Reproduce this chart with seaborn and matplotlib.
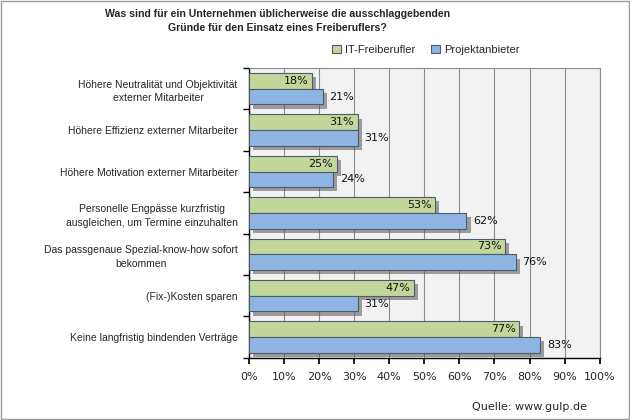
import matplotlib
matplotlib.use("Agg")
import matplotlib.pyplot as plt
import matplotlib.patheffects as pe
from matplotlib.ticker import FixedLocator, PercentFormatter
from matplotlib.patches import Patch
import numpy as np
import pandas as pd
import seaborn as sns

categories = [
    "Höhere Neutralität und Objektivität\nexterner Mitarbeiter",
    "Höhere Effizienz externer Mitarbeiter",
    "Höhere Motivation externer Mitarbeiter",
    "Personelle Engpässe kurzfristig\nausgleichen, um Termine einzuhalten",
    "Das passgenaue Spezial-know-how sofort\nbekommen",
    "(Fix-)Kosten sparen",
    "Keine langfristig bindenden Verträge",
]
freiberufler = [18, 31, 25, 53, 73, 47, 77]
projektanbieter = [21, 31, 24, 62, 76, 31, 83]
series = ["IT-Freiberufler", "Projektanbieter"]
colors = ["#c4d79b", "#8db4e2"]

df = pd.DataFrame({
    "Grund": categories * 2,
    "Wert": freiberufler + projektanbieter,
    "Gruppe": [series[0]] * len(categories) + [series[1]] * len(categories),
})

sns.set_theme(style="white")
plt.rcParams["font.family"] = ["Liberation Sans", "DejaVu Sans"]
wide = ["DejaVu Sans"]
fs = 7.5

fig = plt.figure(figsize=(6.3, 4.2), dpi=100)
ax = fig.add_axes([0.395, 0.148, 0.557, 0.69])
ax.set_facecolor("#f2f2f2")

sns.barplot(data=df, y="Grund", x="Wert", hue="Gruppe", orient="h",
            palette=colors, saturation=1, width=0.76, edgecolor="#4f5b6b", linewidth=0.8,
            ax=ax, legend=False, zorder=3)

shadow = [pe.SimplePatchShadow(offset=(3, -3), shadow_rgbFace="#555555", alpha=0.55), pe.Normal()]
for p in ax.patches:
    p.set_path_effects(shadow)

for i, cont in enumerate(ax.containers):
    for bar, v in zip(cont, freiberufler if i == 0 else projektanbieter):
        y = bar.get_y() + bar.get_height() / 2
        if i == 0:
            ax.text(v - 1.0, y, f"{v}%", ha="right", va="center", fontsize=8, family=wide, color="#111111", zorder=5)
        else:
            ax.text(v + 2.0, y, f"{v}%", ha="left", va="center", fontsize=8, family=wide, color="#111111", zorder=5)

ax.set_xlim(0, 100)
ax.set_ylim(len(categories) - 0.5, -0.5)
ax.xaxis.set_major_locator(FixedLocator(np.arange(0, 101, 10)))
ax.xaxis.set_major_formatter(PercentFormatter(decimals=0))
ax.grid(axis="x", color="#8c8c8c", linewidth=0.8, zorder=0)
ax.set_axisbelow(True)
ax.set_xlabel("")
ax.set_ylabel("")
ax.tick_params(axis="x", labelsize=8, length=4, direction="out", color="black", pad=6, bottom=True)
for lab in ax.get_xticklabels():
    lab.set_family(wide)
ax.tick_params(axis="y", labelsize=fs, length=0, pad=8)
ax.yaxis.set_minor_locator(FixedLocator(np.arange(-0.5, len(categories), 1)))
ax.tick_params(axis="y", which="minor", length=4, direction="out", color="black", left=True)
for lab in ax.get_yticklabels():
    lab.set_horizontalalignment("right")
    lab.set_multialignment("center")
    lab.set_linespacing(1.45)

for s in ["top", "right"]:
    ax.spines[s].set_color("#8c8c8c")
    ax.spines[s].set_linewidth(0.8)
for s in ["left", "bottom"]:
    ax.spines[s].set_color("black")
    ax.spines[s].set_linewidth(1.0)

fig.text(0.44, 0.978, "Was sind für ein Unternehmen üblicherweise die ausschlaggebenden\nGründe für den Einsatz eines Freiberuflers?",
         ha="center", va="top", fontsize=7.6, fontweight="bold", linespacing=1.45)

handles = [Patch(facecolor=c, edgecolor="#4f5b6b", linewidth=0.8) for c in colors]
fig.legend(handles, series, loc="center", bbox_to_anchor=(0.676, 0.882), ncol=2, frameon=False,
           fontsize=8, handlelength=0.8, handleheight=0.8, handletextpad=0.4, columnspacing=1.4)

fig.text(0.932, 0.018, "Quelle: www.gulp.de", ha="right", va="bottom", fontsize=8, family=wide)

fig.patches.append(plt.Rectangle((0.002, 0.002), 0.996, 0.996, transform=fig.transFigure,
                                 fill=False, edgecolor="#999999", linewidth=1.0))

fig.savefig("out.png", dpi=100)
